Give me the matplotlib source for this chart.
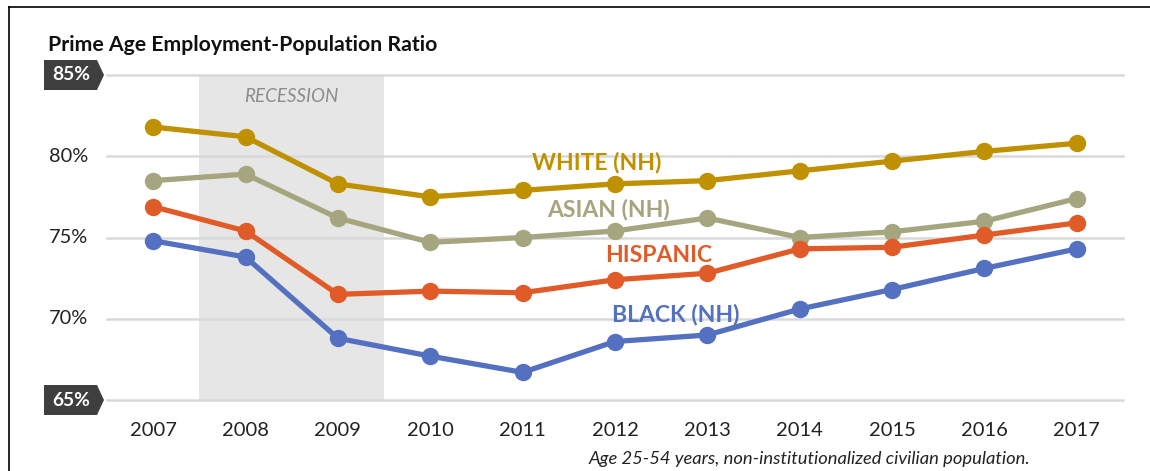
import matplotlib
matplotlib.use("Agg")
import matplotlib.pyplot as plt
import matplotlib.transforms as mtransforms
from matplotlib.patches import Polygon
from matplotlib.lines import Line2D

years = ["2007", "2008", "2009", "2010", "2011", "2012", "2013", "2014", "2015", "2016", "2017"]
white = [81.8, 81.2, 78.3, 77.5, 77.9, 78.3, 78.5, 79.1, 79.7, 80.3, 80.8]
asian = [78.5, 78.9, 76.2, 74.7, 75.0, 75.4, 76.2, 75.0, 75.35, 76.0, 77.4]
hispanic = [76.9, 75.4, 71.5, 71.7, 71.6, 72.4, 72.8, 74.3, 74.4, 75.15, 75.9]
black = [74.8, 73.8, 68.8, 67.7, 66.7, 68.6, 69.0, 70.6, 71.8, 73.1, 74.3]
series_names = ["WHITE (NH)", "ASIAN (NH)", "HISPANIC", "BLACK (NH)"]
yticks = [65, 70, 75, 80, 85]
recession = (0.5, 2.5)

colors = ["#BF9000", "#A5A57F", "#E15B28", "#5470C0"]
label_pos = [(4.8, 79.6), (4.93, 76.7), (5.47, 73.9), (5.66, 70.25)]

plt.rcParams['font.family'] = ['Lato', 'DejaVu Sans']
W, H = 1150, 471
fig = plt.figure(figsize=(W / 100, H / 100), dpi=100)
ax = fig.add_axes([107 / W, 1 - 400 / H, (1123 - 107) / W, (400 - 75) / H])
ax.set_xlim(-0.5, len(years) - 0.5)
ax.set_ylim(65, 85)
for s in ax.spines.values():
    s.set_visible(False)

for yv in yticks:
    ax.axhline(yv, color="#D9D9D9", lw=1.8, zorder=1, clip_on=False)

ax.axvspan(recession[0], recession[1], ymin=0, ymax=1, color="#E6E6E6", zorder=0, lw=0)
ax.text(sum(recession) / 2, 83.65, "RECESSION", ha="center", va="center",
        fontsize=13.5, style="italic", color="#8C8C8C")

x = list(range(len(years)))
for vals, c, name, (lx, ly) in zip([white, asian, hispanic, black], colors, series_names, label_pos):
    ax.plot(x, vals, color=c, lw=3.8, marker="o", markersize=11.5, zorder=3, solid_capstyle="round")
    ax.text(lx, ly, name, color=c, fontsize=16.5, fontweight="bold", ha="center", va="center")

ax.set_xticks(x)
ax.set_xticklabels(years, fontsize=14.5, color="#222222")
ax.tick_params(axis="x", length=0, pad=16)
ax.set_yticks([])

# y labels
trans = mtransforms.blended_transform_factory(fig.transFigure, ax.transData)
half_h = 15 / 16.25
for yv in yticks:
    if yv in (65, 85):
        x0, x1, xp = 44 / W, 97 / W, 104 / W
        poly = Polygon([(x0, yv - half_h), (x1, yv - half_h), (xp, yv), (x1, yv + half_h), (x0, yv + half_h)],
                       closed=True, transform=trans, facecolor="#3F3F3F", edgecolor="none", clip_on=False)
        ax.add_patch(poly)
        ax.text(71 / W, yv, f"{yv}%", transform=trans, ha="center", va="center",
                fontsize=13.8, fontweight="bold", color="white")
    else:
        ax.text(88 / W, yv, f"{yv}%", transform=trans, ha="right", va="center",
                fontsize=14.4, color="#222222")

fig.text(48 / W, 1 - 45 / H, "Prime Age Employment-Population Ratio", fontsize=15.3,
         fontweight="bold", ha="left", va="center", color="#111111")
fig.text(1030 / W, 1 - 459 / H, "Age 25-54 years, non-institutionalized civilian population.",
         fontsize=13.2, style="italic", ha="right", va="center", color="#222222")

# frame lines
fig.add_artist(Line2D([9 / W, 9 / W], [0, 1 - 7 / H], transform=fig.transFigure, color="black", lw=1.2))
fig.add_artist(Line2D([9 / W, 1], [1 - 7 / H, 1 - 7 / H], transform=fig.transFigure, color="black", lw=1.2))

fig.savefig("out.png", dpi=100)
